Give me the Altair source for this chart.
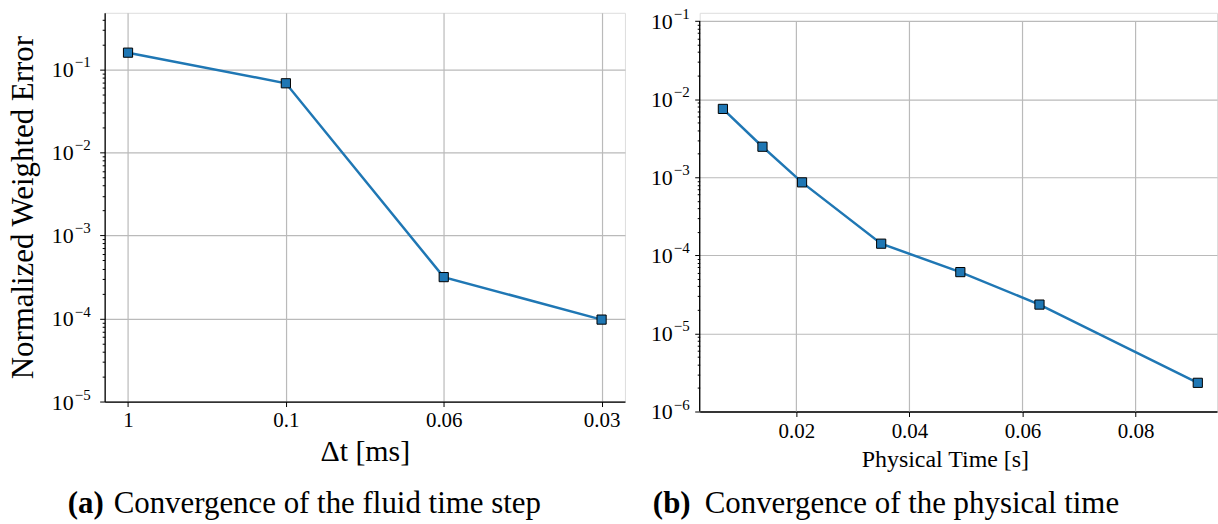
import altair as alt
import pandas as pd

# ---------------- data ----------------
dt_labels = ["1", "0.1", "0.06", "0.03"]
dt_error = [0.159, 0.068, 3.15e-4, 9.7e-5]

phys_time = [0.007, 0.014, 0.021, 0.035, 0.049, 0.063, 0.091]
phys_error = [7.5e-3, 2.46e-3, 8.6e-4, 1.41e-4, 6.1e-5, 2.34e-5, 2.33e-6]

x_ticks_b = [0.02, 0.04, 0.06, 0.08]

exponents_a = [-5, -4, -3, -2, -1]
exponents_b = [-6, -5, -4, -3, -2, -1]

caption_a = ["(a)", "Convergence of the fluid time step"]
caption_b = ["(b)", "Convergence of the physical time"]

y_title = "Normalized Weighted Error"
x_title_a = "Δt [ms]"
x_title_b = "Physical Time [s]"

# ---------------- style ----------------
FONT = "Liberation Serif"
BLUE = "#1f77b4"
GRID = "#bababa"


def log_ticks(emin, emax, top):
    vals = []
    for e in range(emin, emax + 1):
        for k in range(1, 10):
            v = float(f"{k}e{e}")
            if v <= top * 1.0001:
                vals.append(v)
    return vals


LOGV = "log(datum.value)/LN10"
MAJOR = f"abs({LOGV} - round({LOGV})) < 0.001"


def y_axis(emin, emax, top, title, domain=True):
    kw = dict(
        values=log_ticks(emin, emax, top),
        labels=False,
        tickSize={"condition": {"test": MAJOR, "value": 5}, "value": 2.5},
        tickColor="black",
        tickWidth=1,
        grid=True,
        gridColor=GRID,
        gridWidth=1.2,
        gridOpacity={"condition": {"test": MAJOR, "value": 1}, "value": 0},
        domain=domain,
        domainColor="black",
        domainWidth=1.3,
    )
    if title:
        kw.update(title=title, titleFont=FONT, titleFontSize=31, titleFontWeight="normal",
                  titleColor="black", titlePadding=60)
    else:
        kw.update(title=None)
    return alt.Axis(**kw)


def log_labels(exps, scale, axis, x_right):
    df = pd.DataFrame({"err": [float(f"1e{e}") for e in exps],
                       "e": ["\u2212" + str(abs(e)) for e in exps]})
    base = alt.Chart(df).encode(y=alt.Y("err:Q", scale=scale, axis=axis))
    ten = base.mark_text(font=FONT, fontSize=22, align="right", baseline="middle",
                         color="black", dy=1).encode(x=alt.value(x_right), text=alt.value("10"))
    sup = base.mark_text(font=FONT, fontSize=15, align="left", baseline="middle",
                         color="black", dy=-7).encode(x=alt.value(x_right + 1), text="e:N")
    return [ten, sup]


def caption(parts, x_label, x_text, y):
    c1 = alt.Chart(pd.DataFrame({"t": [parts[0]]})).mark_text(
        font=FONT, fontSize=31, fontWeight="bold", align="left", baseline="alphabetic",
        color="black").encode(text="t:N", x=alt.value(x_label), y=alt.value(y))
    c2 = alt.Chart(pd.DataFrame({"t": [parts[1]]})).mark_text(
        font=FONT, fontSize=31, align="left", baseline="alphabetic",
        color="black").encode(text="t:N", x=alt.value(x_text), y=alt.value(y))
    return [c1, c2]


# ---------------- panel (a) ----------------
df_a = pd.DataFrame({"dt": dt_labels, "err": dt_error})
ya_scale = alt.Scale(type="log", domain=[1e-5, 0.48], nice=False)
ya_axis = y_axis(-5, -1, 0.48, y_title)

xa = alt.X("dt:O", sort=dt_labels,
           scale=alt.Scale(type="point", padding=0.148),
           axis=alt.Axis(title=x_title_a, labelAngle=0, labelFont=FONT, labelFontSize=21,
                         labelColor="black", labelPadding=3, tickSize=5, tickColor="black",
                         grid=True, gridColor=GRID, gridWidth=1.2,
                         domainColor="black", domainWidth=1.3,
                         titleFont=FONT, titleFontSize=30, titleFontWeight="normal",
                         titleColor="black", titlePadding=6))
ya = alt.Y("err:Q", scale=ya_scale, axis=ya_axis)

base_a = alt.Chart(df_a).encode(x=xa, y=ya)
line_a = base_a.mark_line(color=BLUE, strokeWidth=2.5)
pts_a = base_a.mark_point(shape="square", filled=True, size=85, color=BLUE,
                          stroke="black", strokeWidth=1, opacity=1)

panel_a = alt.layer(
    line_a, pts_a,
    *log_labels(exponents_a, ya_scale, ya_axis, -31),
    *caption(caption_a, -37, 9, 502),
).properties(width=522, height=390)

# ---------------- panel (b) ----------------
df_b = pd.DataFrame({"t": phys_time, "err": phys_error})
df_grid = pd.DataFrame({"t": x_ticks_b})

xb_scale = alt.Scale(domain=[0.0029, 0.0944], nice=False, zero=False)
yb_scale = alt.Scale(type="log", domain=[1e-6, 0.1276], nice=False)
yb_axis = y_axis(-6, -1, 0.1, None, domain=False)

xb_axis = alt.Axis(title=x_title_b, values=x_ticks_b, format=".2f",
                   labelFont=FONT, labelFontSize=21, labelColor="black",
                   labelPadding=4, tickSize=5, tickColor="black",
                   grid=False, domainColor="black", domainWidth=1.3,
                   labelFlush=False,
                   titleFont=FONT, titleFontSize=24, titleFontWeight="normal",
                   titleColor="black", titlePadding=6, titleX=246)
xb = alt.X("t:Q", scale=xb_scale, axis=xb_axis)
yb = alt.Y("err:Q", scale=yb_scale, axis=yb_axis)

vgrid_b = alt.Chart(df_grid).mark_rule(color=GRID, strokeWidth=1.2).encode(
    x=alt.X("t:Q", scale=xb_scale, axis=xb_axis),
    y=alt.Y(datum=1e-6, type="quantitative", scale=yb_scale, axis=yb_axis),
    y2=alt.datum(0.1))
spine_b = alt.Chart(pd.DataFrame({"t": [0]})).mark_rule(color="black", strokeWidth=1.3).encode(
    x=alt.value(0),
    y=alt.Y(datum=1e-6, type="quantitative", scale=yb_scale, axis=yb_axis),
    y2=alt.datum(0.1))

base_b = alt.Chart(df_b).encode(x=xb, y=yb)
line_b = base_b.mark_line(color=BLUE, strokeWidth=2.5)
pts_b = base_b.mark_point(shape="square", filled=True, size=85, color=BLUE,
                          stroke="black", strokeWidth=1, opacity=1)

panel_b = alt.layer(
    vgrid_b, line_b, pts_b, spine_b,
    *log_labels(exponents_b, yb_scale, yb_axis, -27),
    *caption(caption_b, -47, 5, 502),
).properties(width=519, height=400)

chart = alt.hconcat(panel_a, panel_b, spacing=24).properties(
    padding={"left": 7, "top": 5, "right": 0, "bottom": 0}
).configure_view(stroke=None).configure(background="white")

chart.save("out.html", embed_options={"renderer": "svg", "actions": False})
